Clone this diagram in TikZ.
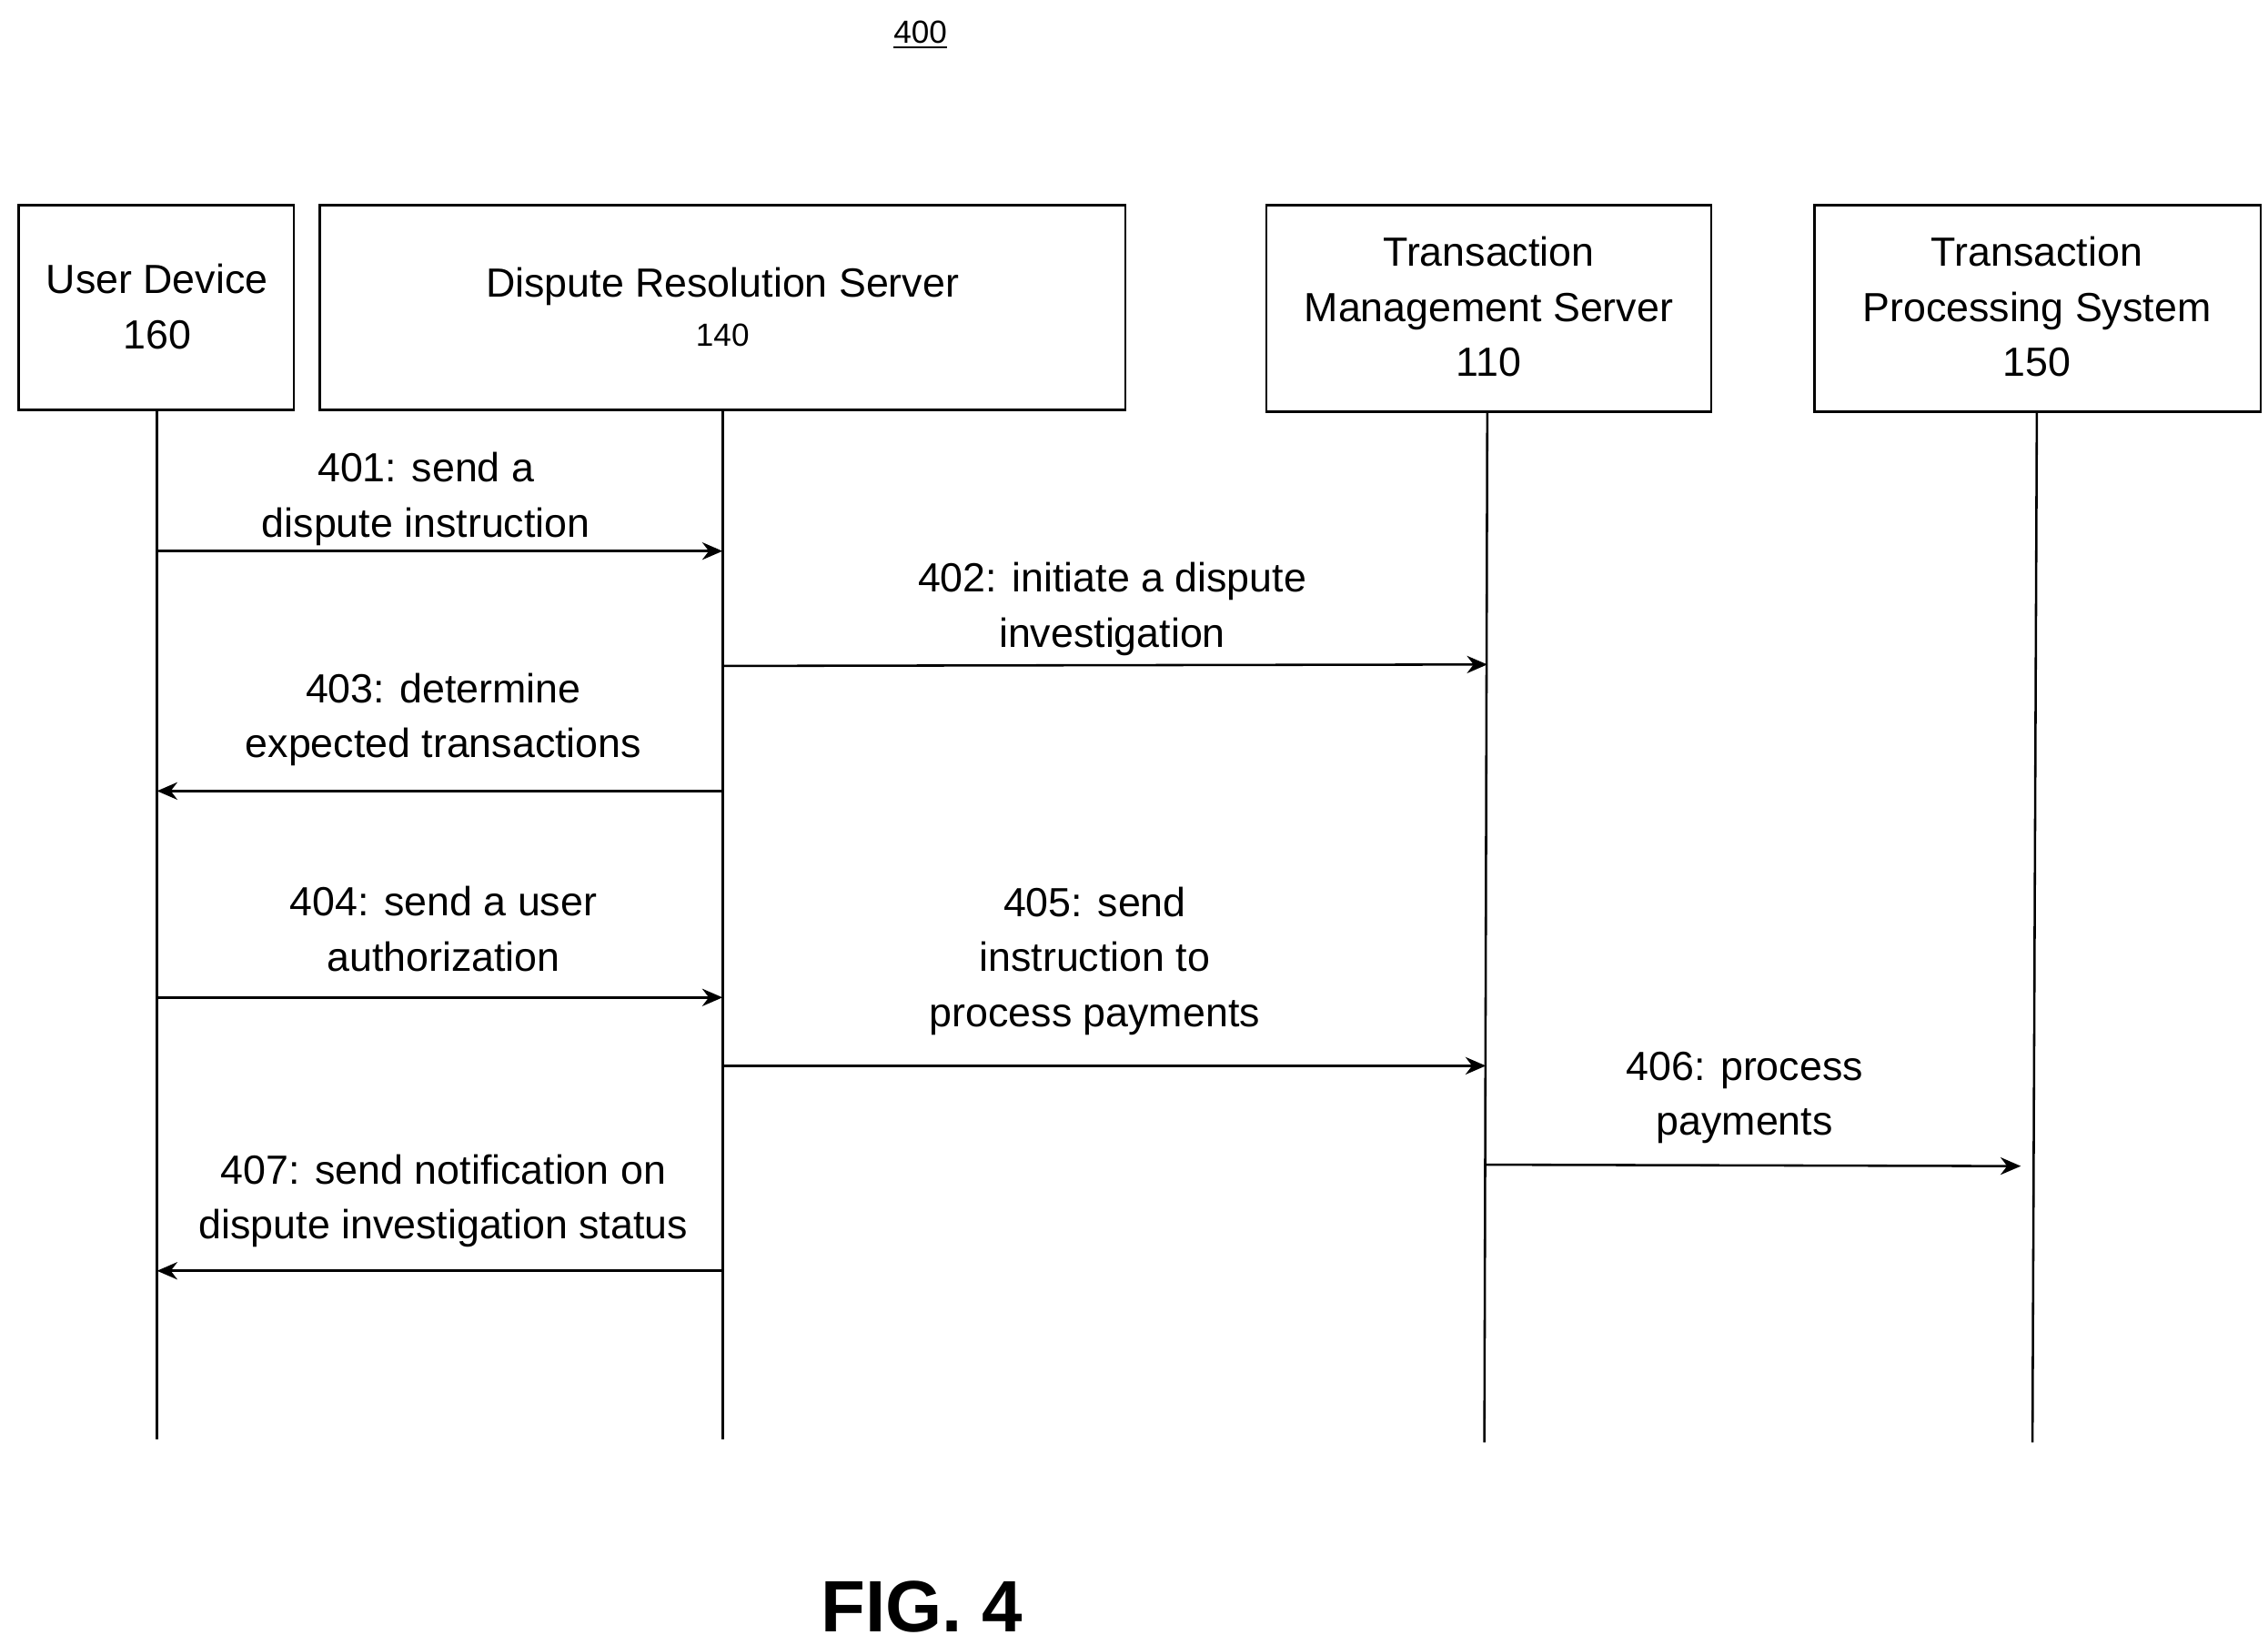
\documentclass[tikz,border=0pt]{standalone}
\usepackage{fontspec}
\setmainfont{Liberation Sans}
\usetikzlibrary{arrows.meta}
\begin{document}
\begin{tikzpicture}[x=0.5pt,y=-0.5pt,
  box/.style={draw,line width=0.8pt,align=center},
  life/.style={line width=0.8pt},
  msg/.style={line width=0.8pt,-{Stealth[length=7pt,width=6pt]}},
  lbl/.style={align=center,inner sep=0pt},
  every node/.style={font=\fontsize{14}{19}\selectfont}]
\useasboundingbox (0,0) rectangle (1560,1131);
\node[font=\fontsize{11}{13}\selectfont] (t) at (633,24) {\underline{400}};
\draw[box] (13,141) rectangle (202,282);
\node[lbl] (ud) at (108,211) {User Device\\160};
\draw[box] (220,141) rectangle (774,282);
\node[lbl] (drs) at (497,211) {Dispute Resolution Server\\[-2pt]{\fontsize{11}{13}\selectfont 140}};
\draw[box] (871,141) rectangle (1177,283);
\node[lbl] (tms) at (1024,211) {Transaction\\Management Server\\110};
\draw[box] (1248,141) rectangle (1555,283);
\node[lbl] (tps) at (1401,211) {Transaction\\Processing System\\150};
\coordinate (a0) at (108,282); \coordinate (a1) at (108,990);
\coordinate (b0) at (497,282); \coordinate (b1) at (497,990);
\coordinate (c0) at (1023,283); \coordinate (c1) at (1021,992);
\coordinate (d0) at (1401,283); \coordinate (d1) at (1398,992);
\draw[life] (a0)--(a1); \draw[life] (b0)--(b1); \draw[life] (c0)--(c1); \draw[life] (d0)--(d1);
\coordinate (m1a) at (108,379); \coordinate (m1b) at (497,379);
\coordinate (m2a) at (497,458); \coordinate (m2b) at (1023,457);
\coordinate (m3a) at (497,544); \coordinate (m3b) at (108,544);
\coordinate (m4a) at (108,686); \coordinate (m4b) at (497,686);
\coordinate (m5a) at (497,733); \coordinate (m5b) at (1022,733);
\coordinate (m6a) at (1021,801); \coordinate (m6b) at (1390,802);
\coordinate (m7a) at (497,874); \coordinate (m7b) at (108,874);
\draw[msg] (m1a)--(m1b); \draw[msg] (m2a)--(m2b); \draw[msg] (m3a)--(m3b);
\draw[msg] (m4a)--(m4b); \draw[msg] (m5a)--(m5b); \draw[msg] (m6a)--(m6b); \draw[msg] (m7a)--(m7b);
\node[lbl] (l1) at (293,343) {401: send a\\dispute instruction};
\node[lbl] (l2) at (765,419) {402: initiate a dispute\\investigation};
\node[lbl] (l3) at (305,495) {403: determine\\expected transactions};
\node[lbl] (l4) at (305,639) {404: send a user\\authorization};
\node[lbl] (l5) at (753,661) {405: send\\instruction to\\process payments};
\node[lbl] (l6) at (1200,755) {406: process\\payments};
\node[lbl] (l7) at (305,826) {407: send notification on\\dispute investigation status};
\node[font=\fontsize{25}{30}\selectfont\bfseries] (fig) at (634,1105) {FIG. 4};
\end{tikzpicture}
\end{document}
